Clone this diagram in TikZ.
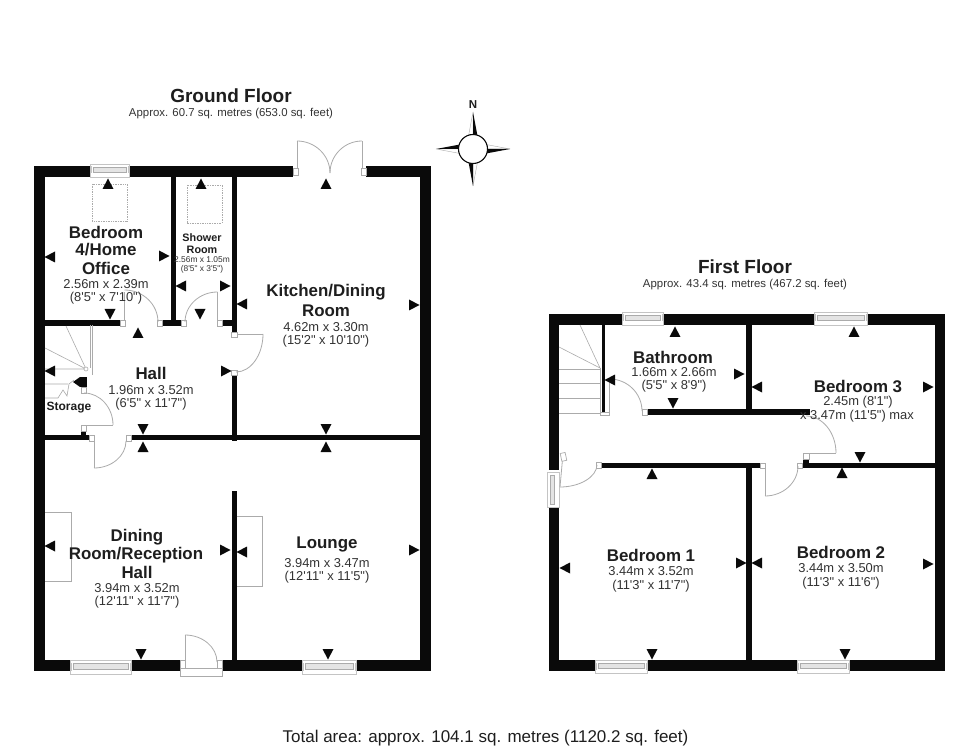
\documentclass[tikz,border=0pt]{standalone}
\usepackage{fontspec}
\setmainfont{Liberation Sans}[Ligatures=TeXOff]
\usetikzlibrary{calc}
\definecolor{ink}{HTML}{0A0A0A}
\definecolor{txt}{HTML}{1E1E1E}
\definecolor{txtb}{HTML}{333333}
\definecolor{gline}{HTML}{ABABAB}
\definecolor{gedge}{HTML}{C4C4C4}
\definecolor{glass}{HTML}{E4E4E4}
\tikzset{
  x=1pt,y=-1pt,
  wall/.style={fill=ink,draw=none},
  thinline/.style={draw=gline,line width=0.8pt},
  ttl/.style={font=\bfseries\fontsize{19}{21}\selectfont,text=txt,inner sep=0pt},
  sub/.style={font=\fontsize{11.4}{13}\selectfont,text=txtb,inner sep=0pt},
  big/.style={font=\bfseries\fontsize{16.9}{18}\selectfont,text=txt,inner sep=0pt},
  dims/.style={font=\fontsize{12.9}{14}\selectfont,text=txtb,inner sep=0pt},
  smb/.style={font=\bfseries\fontsize{10.8}{12}\selectfont,text=txt,inner sep=0pt},
  smd/.style={font=\fontsize{8.4}{10}\selectfont,text=txtb,inner sep=0pt},
}
\newcommand{\upm}[2]{\fill[ink] (#1,#2-5.5)--(#1+5.5,#2+5)--(#1-5.5,#2+5)--cycle;}
\newcommand{\dnm}[2]{\fill[ink] (#1,#2+5.5)--(#1+5.5,#2-5)--(#1-5.5,#2-5)--cycle;}
\newcommand{\lfm}[2]{\fill[ink] (#1-5.5,#2)--(#1+5,#2-5.5)--(#1+5,#2+5.5)--cycle;}
\newcommand{\rtm}[2]{\fill[ink] (#1+5.5,#2)--(#1-5,#2-5.5)--(#1-5,#2+5.5)--cycle;}
\newcommand{\wl}[4]{\fill[wall] (#1,#2) rectangle (#3,#4);}
\newcommand{\jamb}[4]{\filldraw[draw=gline,fill=white,line width=0.7pt] (#1,#2) rectangle (#3,#4);}
% quarter arc: centre, start, end
\newcommand{\qarc}[6]{\draw[thinline] (#3,#4) .. controls ($(#3,#4)+0.55*(#5,#6)-0.55*(#1,#2)$) and ($(#5,#6)+0.55*(#3,#4)-0.55*(#1,#2)$) .. (#5,#6);}
% horizontal window
\newcommand{\winh}[4]{\filldraw[draw=gedge,fill=white,line width=0.7pt] (#1,#2) rectangle (#3,#4);
  \filldraw[draw=gline,fill=glass,line width=0.6pt] (#1+3,#2+3.5) rectangle (#3-3,#4-4.5);
  \draw[gedge,line width=0.5pt] (#1+1,#2+2.5) -- (#1+1,#4-3.5) (#3-1,#2+2.5) -- (#3-1,#4-3.5);}
\begin{document}
\begin{tikzpicture}
\useasboundingbox (0,0) rectangle (980,751);
\fill[white] (0,0) rectangle (980,751);

% ---------- GROUND FLOOR walls
\wl{34}{166}{90}{177}
\wl{129}{166}{293}{177}
\wl{366}{166}{431}{177}
\wl{34}{166}{45}{671}
\wl{420}{166}{431}{671}
\wl{34}{660}{70}{671}
\wl{131}{660}{180}{671}
\wl{222}{660}{302}{671}
\wl{356}{660}{431}{671}
\wl{170.5}{177}{176}{320}
\wl{232}{177}{236.5}{332}
\wl{45}{320}{120}{326}
\wl{162}{320}{181}{326}
\wl{170.5}{320}{176}{326}
\wl{222}{320}{236.5}{326}
\wl{232}{375}{236.5}{441}
\wl{45}{435}{89}{440}
\wl{81}{431}{86}{436}
\wl{131}{435}{420}{440}
\wl{231.5}{491}{236.5}{660}
\wl{80}{377}{87}{387}

% windows ground
\winh{90}{164}{129}{177}
\winh{70}{660}{131}{674}
\winh{302}{660}{356}{674}

% skylights
\draw[gline,densely dotted,line width=0.7pt] (92,184) rectangle (127,221);
\draw[gline,densely dotted,line width=0.7pt] (187,185) rectangle (222,223);

% doors ground
\jamb{293}{168}{298}{175}\jamb{361}{168}{366}{175}
\draw[thinline] (297,168)--(297,141); \qarc{297}{173}{297}{141}{330}{173}
\draw[thinline] (362,168)--(362,141); \qarc{362}{173}{362}{141}{330}{173}
% bedroom 4
\jamb{120}{320}{125}{326}\jamb{157}{320}{162}{326}
\draw[thinline] (124.5,320)--(124.5,292);
\qarc{124.5}{322}{124.5}{290}{158}{322}
% shower
\jamb{181}{320}{186}{326}\jamb{217}{320}{222}{326}
\draw[thinline] (217.5,320)--(217.5,292);
\qarc{217.5}{322}{217.5}{292}{185}{322}
% kitchen
\jamb{231.5}{332}{237}{337}\jamb{231.5}{370}{237}{375}
\draw[thinline] (237,334)--(263,334);
\qarc{236}{334}{263}{334}{236}{372}
% stairs ground
\draw[thinline,line width=0.6pt] (90,325)--(90,368) (92.5,325)--(92.5,375);
\draw[thinline,line width=0.6pt] (66,326)--(86,369) (45,348)--(86,369) (45,369)--(86,369) (45,384)--(68,384) (45,398)--(58,398);
\draw[thinline,line width=0.6pt] (58,398)--(63,390)--(67,396)--(69,384)--(74,380);
\filldraw[draw=gline,fill=white,line width=0.6pt] (86,369) circle (2);
% storage door
\jamb{81}{387}{86}{393}\jamb{81}{425}{86}{431}
\draw[thinline] (81,425)--(113,425);
\qarc{84}{425}{84}{393}{113}{425}
% hall door
\jamb{89}{435}{94}{441}\jamb{126}{435}{131}{441}
\draw[thinline] (94,441)--(94,468);
\qarc{94}{441}{94}{468}{126}{441}
% chimneys
\draw[thinline] (45,512)--(71,512)--(71,581)--(45,581);
\draw[thinline] (236.5,516)--(262,516)--(262,586)--(236.5,586);
% front door
\jamb{180}{660}{185}{668}\jamb{217}{660}{222}{668}
\filldraw[draw=gline,fill=white,line width=0.7pt] (180,668) rectangle (222,676);
\draw[thinline] (185,660)--(185,635);
\qarc{185}{662}{185}{635}{217}{662}

% arrows ground
\upm{108}{184}\lfm{50}{257}\rtm{164}{256}\dnm{110}{314}
\upm{201}{184}\lfm{181}{286}\rtm{225}{286}\dnm{200}{314}
\lfm{242}{304}\upm{326}{184}\rtm{414}{305}\dnm{326}{429}\upm{326}{447}
\upm{138}{333}\rtm{226}{371}\lfm{50}{371}\dnm{143}{429}\upm{143}{447}
\fill[ink] (73,382)--(80,377)--(80,387)--cycle;
\lfm{50}{546}\rtm{225}{550}\dnm{141}{654}
\lfm{242}{552}\rtm{414}{550}\dnm{328}{654}

% compass
\node[font=\bfseries\fontsize{11.5}{12}\selectfont,text=txt,inner sep=0pt] (north) at (473,104.5) {N};
\foreach \a in {0,90,180,270}{
  \begin{scope}[shift={(473,149)},rotate=\a]
    \filldraw[draw=gline,fill=white,line width=0.4pt] (0,-37)--(-4.5,-13)--(0,-13)--cycle;
    \fill[ink] (0,-37)--(4.5,-13)--(0,-13)--cycle;
  \end{scope}}
\filldraw[draw=ink,fill=white,line width=1.1pt] (473,149) circle (14.5);

% ---------- FIRST FLOOR walls
\wl{549}{314}{622}{325}
\wl{663}{314}{814}{325}
\wl{867}{314}{945}{325}
\wl{549}{314}{559}{470}
\wl{549}{507}{559}{671}
\wl{935}{314}{945}{671}
\wl{549}{660}{595}{671}
\wl{647}{660}{797}{671}
\wl{849}{660}{945}{671}
\wl{602}{325}{605}{412}
\wl{746}{325}{752}{409}
\wl{647}{409}{810}{415}
\wl{601}{463}{760}{468}
\wl{746}{468}{752}{660}
\wl{802}{463}{935}{468}
\wl{803}{459}{809}{463}

% windows first
\winh{622}{312}{663}{325}
\winh{814}{312}{867}{325}
\winh{595}{660}{647}{673}
\winh{797}{660}{849}{673}
\filldraw[draw=gedge,fill=white,line width=0.7pt] (547,472) rectangle (559,507);
\filldraw[draw=gline,fill=glass,line width=0.6pt] (550,475) rectangle (554.5,504);

% stairs first
\draw[thinline,line width=0.6pt] (580,325)--(600,368) (559,347)--(600,368);
\draw[thinline,line width=0.6pt] (559,369)--(600,369) (559,383)--(600,383) (559,398)--(600,398) (559,413)--(600,413);
\draw[thinline,line width=0.6pt] (600,368)--(600,414);
\jamb{600}{412}{609}{415}
% bathroom door
\jamb{642}{409}{647}{415}
\draw[thinline] (609.5,412)--(609.5,380);
\qarc{609.5}{411}{609.5}{379}{642}{411}
% bedroom 3 door
\jamb{803}{453}{809}{459}
\draw[thinline] (809,453)--(836,453);
\qarc{806}{453}{806}{416}{836}{453}
% bedroom 2 door
\jamb{760}{463}{765}{468}\jamb{797}{463}{802}{468}
\draw[thinline] (765,468)--(765,496);
\qarc{765}{466}{765}{496}{798}{466}
% bedroom 1 door
\jamb{596}{462}{601}{468}
\draw[thinline] (563,454)--(560,487);
\qarc{561}{465}{560}{487}{597}{465}
\filldraw[draw=gline,fill=white,line width=0.7pt,rotate around={12:(563,457)}] (561,453) rectangle (566,461);

% arrows first
\upm{675}{332}\lfm{610}{380}\rtm{739}{374}\lfm{757}{387}\dnm{673}{403}
\upm{854}{332}\rtm{928}{387}\dnm{860}{457}
\upm{652}{474}\lfm{565}{568}\rtm{741}{563}\dnm{652}{654}
\lfm{757}{563}\upm{842}{473}\rtm{928}{564}\dnm{845}{654}

% ---------- TEXT
\node[ttl] (gftitle) at (231,95.5) {Ground Floor};
\node[sub] (gfsub) at (231,114) {Approx. 60.7 sq. metres (653.0 sq. feet)};
\node[ttl] (fftitle) at (745,267) {First Floor};
\node[sub] (ffsub) at (745,284.5) {Approx. 43.4 sq. metres (467.2 sq. feet)};
\node[font=\fontsize{17}{19}\selectfont,text=txt,inner sep=0pt] (total) at (485.5,738) {Total area: approx. 104.1 sq. metres (1120.2 sq. feet)};

\node[big] (b4a) at (106,232) {Bedroom};
\node[big] (b4b) at (106,250) {4/Home};
\node[big] (b4c) at (106,268) {Office};
\node[dims] (b4d) at (106,284) {2.56m x 2.39m};
\node[dims] (b4e) at (106,298) {(8'5" x 7'10")};

\node[smb] (sra) at (202,238) {Shower};
\node[smb] (srb) at (202,250) {Room};
\node[smd] (src) at (202,259.5) {2.56m x 1.05m};
\node[smd] (srd) at (202,269.5) {(8'5" x 3'5")};

\node[big] (ka) at (326,292) {Kitchen/Dining};
\node[big] (kb) at (326,311) {Room};
\node[dims] (kc) at (326,327) {4.62m x 3.30m};
\node[dims] (kd) at (326,341) {(15'2" x 10'10")};

\node[big] (ha) at (151,373) {Hall};
\node[dims] (hb) at (151,390) {1.96m x 3.52m};
\node[dims] (hc) at (151,404) {(6'5" x 11'7")};
\node[font=\bfseries\fontsize{12}{13}\selectfont,text=txt,inner sep=0pt] (st) at (69,408) {Storage};

\node[big] (da) at (137,537) {Dining};
\node[big] (db) at (136,555) {Room/Reception};
\node[big] (dc) at (137,572) {Hall};
\node[dims] (dd) at (137,588) {3.94m x 3.52m};
\node[dims] (de) at (137,602.5) {(12'11" x 11'7")};

\node[big] (la) at (327,544) {Lounge};
\node[dims] (lb) at (327,563) {3.94m x 3.47m};
\node[dims] (lc) at (327,577) {(12'11" x 11'5")};

\node[big] (ba) at (673,357) {Bathroom};
\node[dims] (bb) at (674,372) {1.66m x 2.66m};
\node[dims] (bc) at (674,386) {(5'5" x 8'9")};

\node[big] (c3a) at (858,386) {Bedroom 3};
\node[dims] (c3b) at (858,402) {2.45m (8'1")};
\node[dims] (c3c) at (857,416) {x 3.47m (11'5") max};

\node[big] (e1a) at (651,555) {Bedroom 1};
\node[dims] (e1b) at (651,571) {3.44m x 3.52m};
\node[dims] (e1c) at (651,586) {(11'3" x 11'7")};

\node[big] (e2a) at (841,552) {Bedroom 2};
\node[dims] (e2b) at (841,568) {3.44m x 3.50m};
\node[dims] (e2c) at (841,583) {(11'3" x 11'6")};
\end{tikzpicture}
\end{document}
